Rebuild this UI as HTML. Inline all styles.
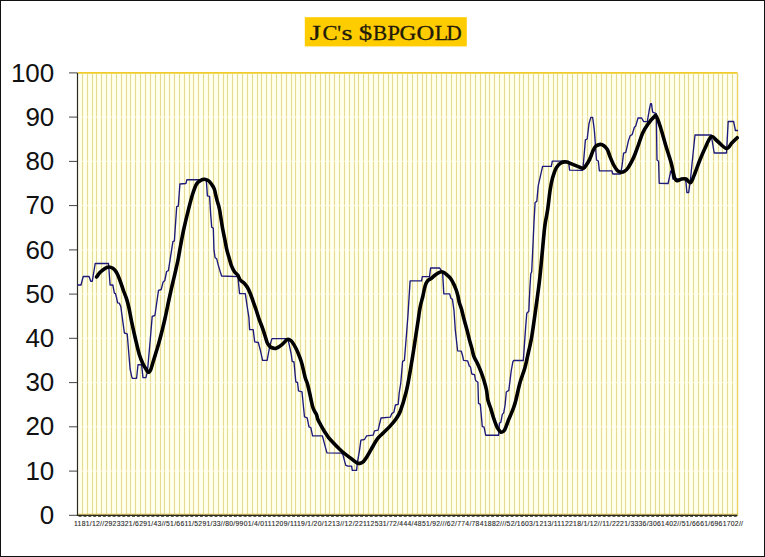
<!DOCTYPE html>
<html><head><meta charset="utf-8"><style>
html,body{margin:0;padding:0;background:#fff;}
body{width:765px;height:557px;overflow:hidden;position:relative;}
svg{position:absolute;left:0;top:0;}
</style></head><body>
<svg width="765" height="557" viewBox="0 0 765 557">
<rect x="0" y="0" width="765" height="557" fill="#fff"/>
<rect x="77.5" y="72.9" width="660.0" height="442.4" fill="#FFFFF2"/>
<path d="M82.5 73.9V515.3M87.5 73.9V515.3M92.5 73.9V515.3M96.5 73.9V515.3M101.5 73.9V515.3M106.5 73.9V515.3M111.5 73.9V515.3M116.5 73.9V515.3M121.5 73.9V515.3M126.5 73.9V515.3M130.5 73.9V515.3M135.5 73.9V515.3M140.5 73.9V515.3M145.5 73.9V515.3M150.5 73.9V515.3M155.5 73.9V515.3M160.5 73.9V515.3M164.5 73.9V515.3M169.5 73.9V515.3M174.5 73.9V515.3M179.5 73.9V515.3M184.5 73.9V515.3M189.5 73.9V515.3M193.5 73.9V515.3M198.5 73.9V515.3M203.5 73.9V515.3M208.5 73.9V515.3M213.5 73.9V515.3M218.5 73.9V515.3M223.5 73.9V515.3M227.5 73.9V515.3M232.5 73.9V515.3M237.5 73.9V515.3M242.5 73.9V515.3M247.5 73.9V515.3M252.5 73.9V515.3M257.5 73.9V515.3M261.5 73.9V515.3M266.5 73.9V515.3M271.5 73.9V515.3M276.5 73.9V515.3M281.5 73.9V515.3M286.5 73.9V515.3M291.5 73.9V515.3M295.5 73.9V515.3M300.5 73.9V515.3M305.5 73.9V515.3M310.5 73.9V515.3M315.5 73.9V515.3M320.5 73.9V515.3M325.5 73.9V515.3M329.5 73.9V515.3M334.5 73.9V515.3M339.5 73.9V515.3M344.5 73.9V515.3M349.5 73.9V515.3M354.5 73.9V515.3M358.5 73.9V515.3M363.5 73.9V515.3M368.5 73.9V515.3M373.5 73.9V515.3M378.5 73.9V515.3M383.5 73.9V515.3M388.5 73.9V515.3M392.5 73.9V515.3M397.5 73.9V515.3M402.5 73.9V515.3M407.5 73.9V515.3M412.5 73.9V515.3M417.5 73.9V515.3M422.5 73.9V515.3M426.5 73.9V515.3M431.5 73.9V515.3M436.5 73.9V515.3M441.5 73.9V515.3M446.5 73.9V515.3M451.5 73.9V515.3M456.5 73.9V515.3M460.5 73.9V515.3M465.5 73.9V515.3M470.5 73.9V515.3M475.5 73.9V515.3M480.5 73.9V515.3M485.5 73.9V515.3M489.5 73.9V515.3M494.5 73.9V515.3M499.5 73.9V515.3M504.5 73.9V515.3M509.5 73.9V515.3M514.5 73.9V515.3M519.5 73.9V515.3M523.5 73.9V515.3M528.5 73.9V515.3M533.5 73.9V515.3M538.5 73.9V515.3M543.5 73.9V515.3M548.5 73.9V515.3M553.5 73.9V515.3M557.5 73.9V515.3M562.5 73.9V515.3M567.5 73.9V515.3M572.5 73.9V515.3M577.5 73.9V515.3M582.5 73.9V515.3M587.5 73.9V515.3M591.5 73.9V515.3M596.5 73.9V515.3M601.5 73.9V515.3M606.5 73.9V515.3M611.5 73.9V515.3M616.5 73.9V515.3M621.5 73.9V515.3M625.5 73.9V515.3M630.5 73.9V515.3M635.5 73.9V515.3M640.5 73.9V515.3M645.5 73.9V515.3M650.5 73.9V515.3M655.5 73.9V515.3M659.5 73.9V515.3M664.5 73.9V515.3M669.5 73.9V515.3M674.5 73.9V515.3M679.5 73.9V515.3M684.5 73.9V515.3M688.5 73.9V515.3M693.5 73.9V515.3M698.5 73.9V515.3M703.5 73.9V515.3M708.5 73.9V515.3M713.5 73.9V515.3M718.5 73.9V515.3M722.5 73.9V515.3M727.5 73.9V515.3M732.5 73.9V515.3" stroke="#FFFFD0" stroke-width="2" fill="none"/>
<path d="M82.5 73.9V515.3M87.5 73.9V515.3M92.5 73.9V515.3M96.5 73.9V515.3M101.5 73.9V515.3M106.5 73.9V515.3M111.5 73.9V515.3M116.5 73.9V515.3M121.5 73.9V515.3M126.5 73.9V515.3M130.5 73.9V515.3M135.5 73.9V515.3M140.5 73.9V515.3M145.5 73.9V515.3M150.5 73.9V515.3M155.5 73.9V515.3M160.5 73.9V515.3M164.5 73.9V515.3M169.5 73.9V515.3M174.5 73.9V515.3M179.5 73.9V515.3M184.5 73.9V515.3M189.5 73.9V515.3M193.5 73.9V515.3M198.5 73.9V515.3M203.5 73.9V515.3M208.5 73.9V515.3M213.5 73.9V515.3M218.5 73.9V515.3M223.5 73.9V515.3M227.5 73.9V515.3M232.5 73.9V515.3M237.5 73.9V515.3M242.5 73.9V515.3M247.5 73.9V515.3M252.5 73.9V515.3M257.5 73.9V515.3M261.5 73.9V515.3M266.5 73.9V515.3M271.5 73.9V515.3M276.5 73.9V515.3M281.5 73.9V515.3M286.5 73.9V515.3M291.5 73.9V515.3M295.5 73.9V515.3M300.5 73.9V515.3M305.5 73.9V515.3M310.5 73.9V515.3M315.5 73.9V515.3M320.5 73.9V515.3M325.5 73.9V515.3M329.5 73.9V515.3M334.5 73.9V515.3M339.5 73.9V515.3M344.5 73.9V515.3M349.5 73.9V515.3M354.5 73.9V515.3M358.5 73.9V515.3M363.5 73.9V515.3M368.5 73.9V515.3M373.5 73.9V515.3M378.5 73.9V515.3M383.5 73.9V515.3M388.5 73.9V515.3M392.5 73.9V515.3M397.5 73.9V515.3M402.5 73.9V515.3M407.5 73.9V515.3M412.5 73.9V515.3M417.5 73.9V515.3M422.5 73.9V515.3M426.5 73.9V515.3M431.5 73.9V515.3M436.5 73.9V515.3M441.5 73.9V515.3M446.5 73.9V515.3M451.5 73.9V515.3M456.5 73.9V515.3M460.5 73.9V515.3M465.5 73.9V515.3M470.5 73.9V515.3M475.5 73.9V515.3M480.5 73.9V515.3M485.5 73.9V515.3M489.5 73.9V515.3M494.5 73.9V515.3M499.5 73.9V515.3M504.5 73.9V515.3M509.5 73.9V515.3M514.5 73.9V515.3M519.5 73.9V515.3M523.5 73.9V515.3M528.5 73.9V515.3M533.5 73.9V515.3M538.5 73.9V515.3M543.5 73.9V515.3M548.5 73.9V515.3M553.5 73.9V515.3M557.5 73.9V515.3M562.5 73.9V515.3M567.5 73.9V515.3M572.5 73.9V515.3M577.5 73.9V515.3M582.5 73.9V515.3M587.5 73.9V515.3M591.5 73.9V515.3M596.5 73.9V515.3M601.5 73.9V515.3M606.5 73.9V515.3M611.5 73.9V515.3M616.5 73.9V515.3M621.5 73.9V515.3M625.5 73.9V515.3M630.5 73.9V515.3M635.5 73.9V515.3M640.5 73.9V515.3M645.5 73.9V515.3M650.5 73.9V515.3M655.5 73.9V515.3M659.5 73.9V515.3M664.5 73.9V515.3M669.5 73.9V515.3M674.5 73.9V515.3M679.5 73.9V515.3M684.5 73.9V515.3M688.5 73.9V515.3M693.5 73.9V515.3M698.5 73.9V515.3M703.5 73.9V515.3M708.5 73.9V515.3M713.5 73.9V515.3M718.5 73.9V515.3M722.5 73.9V515.3M727.5 73.9V515.3M732.5 73.9V515.3" stroke="#E5DA96" stroke-width="1" fill="none"/>
<path d="M78.5 471.1H737.5M78.5 426.8H737.5M78.5 382.6H737.5M78.5 338.3H737.5M78.5 294.1H737.5M78.5 249.9H737.5M78.5 205.6H737.5M78.5 161.4H737.5M78.5 117.1H737.5" stroke="#FFFFF4" stroke-width="1" stroke-opacity="0.85" fill="none"/>
<path d="M77.5 72.9H737.5" stroke="#EFCB2C" stroke-width="1.8" fill="none"/>
<path d="M737.5 72.9V515.3" stroke="#EAD360" stroke-width="1.4" fill="none"/>
<path d="M77.5 514.2H737.5" stroke="#E8C850" stroke-width="1" fill="none"/>
<path d="M69 515.3H77.5M69 471.1H77.5M69 426.8H77.5M69 382.6H77.5M69 338.3H77.5M69 294.1H77.5M69 249.9H77.5M69 205.6H77.5M69 161.4H77.5M69 117.1H77.5M69 72.9H77.5" stroke="#444" stroke-width="1" fill="none"/>
<g fill="#1a1a10"><rect x="78.60" y="514.9" width="3" height="1.8"/><rect x="83.45" y="514.9" width="3" height="1.8"/><rect x="88.31" y="514.9" width="3" height="1.8"/><rect x="93.16" y="514.9" width="3" height="1.8"/><rect x="98.01" y="514.9" width="3" height="1.8"/><rect x="102.86" y="514.9" width="3" height="1.8"/><rect x="107.72" y="514.9" width="3" height="1.8"/><rect x="112.57" y="514.9" width="3" height="1.8"/><rect x="117.42" y="514.9" width="3" height="1.8"/><rect x="122.28" y="514.9" width="3" height="1.8"/><rect x="127.13" y="514.9" width="3" height="1.8"/><rect x="131.98" y="514.9" width="3" height="1.8"/><rect x="136.84" y="514.9" width="3" height="1.8"/><rect x="141.69" y="514.9" width="3" height="1.8"/><rect x="146.54" y="514.9" width="3" height="1.8"/><rect x="151.39" y="514.9" width="3" height="1.8"/><rect x="156.25" y="514.9" width="3" height="1.8"/><rect x="161.10" y="514.9" width="3" height="1.8"/><rect x="165.95" y="514.9" width="3" height="1.8"/><rect x="170.81" y="514.9" width="3" height="1.8"/><rect x="175.66" y="514.9" width="3" height="1.8"/><rect x="180.51" y="514.9" width="3" height="1.8"/><rect x="185.36" y="514.9" width="3" height="1.8"/><rect x="190.22" y="514.9" width="3" height="1.8"/><rect x="195.07" y="514.9" width="3" height="1.8"/><rect x="199.92" y="514.9" width="3" height="1.8"/><rect x="204.78" y="514.9" width="3" height="1.8"/><rect x="209.63" y="514.9" width="3" height="1.8"/><rect x="214.48" y="514.9" width="3" height="1.8"/><rect x="219.34" y="514.9" width="3" height="1.8"/><rect x="224.19" y="514.9" width="3" height="1.8"/><rect x="229.04" y="514.9" width="3" height="1.8"/><rect x="233.89" y="514.9" width="3" height="1.8"/><rect x="238.75" y="514.9" width="3" height="1.8"/><rect x="243.60" y="514.9" width="3" height="1.8"/><rect x="248.45" y="514.9" width="3" height="1.8"/><rect x="253.31" y="514.9" width="3" height="1.8"/><rect x="258.16" y="514.9" width="3" height="1.8"/><rect x="263.01" y="514.9" width="3" height="1.8"/><rect x="267.86" y="514.9" width="3" height="1.8"/><rect x="272.72" y="514.9" width="3" height="1.8"/><rect x="277.57" y="514.9" width="3" height="1.8"/><rect x="282.42" y="514.9" width="3" height="1.8"/><rect x="287.28" y="514.9" width="3" height="1.8"/><rect x="292.13" y="514.9" width="3" height="1.8"/><rect x="296.98" y="514.9" width="3" height="1.8"/><rect x="301.84" y="514.9" width="3" height="1.8"/><rect x="306.69" y="514.9" width="3" height="1.8"/><rect x="311.54" y="514.9" width="3" height="1.8"/><rect x="316.39" y="514.9" width="3" height="1.8"/><rect x="321.25" y="514.9" width="3" height="1.8"/><rect x="326.10" y="514.9" width="3" height="1.8"/><rect x="330.95" y="514.9" width="3" height="1.8"/><rect x="335.81" y="514.9" width="3" height="1.8"/><rect x="340.66" y="514.9" width="3" height="1.8"/><rect x="345.51" y="514.9" width="3" height="1.8"/><rect x="350.36" y="514.9" width="3" height="1.8"/><rect x="355.22" y="514.9" width="3" height="1.8"/><rect x="360.07" y="514.9" width="3" height="1.8"/><rect x="364.92" y="514.9" width="3" height="1.8"/><rect x="369.78" y="514.9" width="3" height="1.8"/><rect x="374.63" y="514.9" width="3" height="1.8"/><rect x="379.48" y="514.9" width="3" height="1.8"/><rect x="384.34" y="514.9" width="3" height="1.8"/><rect x="389.19" y="514.9" width="3" height="1.8"/><rect x="394.04" y="514.9" width="3" height="1.8"/><rect x="398.89" y="514.9" width="3" height="1.8"/><rect x="403.75" y="514.9" width="3" height="1.8"/><rect x="408.60" y="514.9" width="3" height="1.8"/><rect x="413.45" y="514.9" width="3" height="1.8"/><rect x="418.31" y="514.9" width="3" height="1.8"/><rect x="423.16" y="514.9" width="3" height="1.8"/><rect x="428.01" y="514.9" width="3" height="1.8"/><rect x="432.86" y="514.9" width="3" height="1.8"/><rect x="437.72" y="514.9" width="3" height="1.8"/><rect x="442.57" y="514.9" width="3" height="1.8"/><rect x="447.42" y="514.9" width="3" height="1.8"/><rect x="452.28" y="514.9" width="3" height="1.8"/><rect x="457.13" y="514.9" width="3" height="1.8"/><rect x="461.98" y="514.9" width="3" height="1.8"/><rect x="466.84" y="514.9" width="3" height="1.8"/><rect x="471.69" y="514.9" width="3" height="1.8"/><rect x="476.54" y="514.9" width="3" height="1.8"/><rect x="481.39" y="514.9" width="3" height="1.8"/><rect x="486.25" y="514.9" width="3" height="1.8"/><rect x="491.10" y="514.9" width="3" height="1.8"/><rect x="495.95" y="514.9" width="3" height="1.8"/><rect x="500.81" y="514.9" width="3" height="1.8"/><rect x="505.66" y="514.9" width="3" height="1.8"/><rect x="510.51" y="514.9" width="3" height="1.8"/><rect x="515.36" y="514.9" width="3" height="1.8"/><rect x="520.22" y="514.9" width="3" height="1.8"/><rect x="525.07" y="514.9" width="3" height="1.8"/><rect x="529.92" y="514.9" width="3" height="1.8"/><rect x="534.78" y="514.9" width="3" height="1.8"/><rect x="539.63" y="514.9" width="3" height="1.8"/><rect x="544.48" y="514.9" width="3" height="1.8"/><rect x="549.34" y="514.9" width="3" height="1.8"/><rect x="554.19" y="514.9" width="3" height="1.8"/><rect x="559.04" y="514.9" width="3" height="1.8"/><rect x="563.89" y="514.9" width="3" height="1.8"/><rect x="568.75" y="514.9" width="3" height="1.8"/><rect x="573.60" y="514.9" width="3" height="1.8"/><rect x="578.45" y="514.9" width="3" height="1.8"/><rect x="583.31" y="514.9" width="3" height="1.8"/><rect x="588.16" y="514.9" width="3" height="1.8"/><rect x="593.01" y="514.9" width="3" height="1.8"/><rect x="597.86" y="514.9" width="3" height="1.8"/><rect x="602.72" y="514.9" width="3" height="1.8"/><rect x="607.57" y="514.9" width="3" height="1.8"/><rect x="612.42" y="514.9" width="3" height="1.8"/><rect x="617.28" y="514.9" width="3" height="1.8"/><rect x="622.13" y="514.9" width="3" height="1.8"/><rect x="626.98" y="514.9" width="3" height="1.8"/><rect x="631.84" y="514.9" width="3" height="1.8"/><rect x="636.69" y="514.9" width="3" height="1.8"/><rect x="641.54" y="514.9" width="3" height="1.8"/><rect x="646.39" y="514.9" width="3" height="1.8"/><rect x="651.25" y="514.9" width="3" height="1.8"/><rect x="656.10" y="514.9" width="3" height="1.8"/><rect x="660.95" y="514.9" width="3" height="1.8"/><rect x="665.81" y="514.9" width="3" height="1.8"/><rect x="670.66" y="514.9" width="3" height="1.8"/><rect x="675.51" y="514.9" width="3" height="1.8"/><rect x="680.36" y="514.9" width="3" height="1.8"/><rect x="685.22" y="514.9" width="3" height="1.8"/><rect x="690.07" y="514.9" width="3" height="1.8"/><rect x="694.92" y="514.9" width="3" height="1.8"/><rect x="699.78" y="514.9" width="3" height="1.8"/><rect x="704.63" y="514.9" width="3" height="1.8"/><rect x="709.48" y="514.9" width="3" height="1.8"/><rect x="714.34" y="514.9" width="3" height="1.8"/><rect x="719.19" y="514.9" width="3" height="1.8"/><rect x="724.04" y="514.9" width="3" height="1.8"/><rect x="728.89" y="514.9" width="3" height="1.8"/><rect x="733.75" y="514.9" width="3" height="1.8"/></g>
<path d="M77.5 72.9V515.3H737.5" stroke="#2a2a20" stroke-width="1.2" fill="none"/>
<polyline points="77.5,285.0 81.0,285.0 83.2,276.5 89.1,276.5 90.7,281.2 92.3,281.2 95.2,263.5 108.5,263.5 110.1,285.0 112.8,285.0 114.4,293.1 115.5,293.6 116.6,298.0 117.6,302.8 119.3,303.2 120.8,306.6 124.4,333.0 127.2,333.8 130.1,369.0 131.6,376.1 132.3,378.3 136.6,378.3 138.0,364.7 141.6,364.7 143.0,377.6 145.9,377.6 147.4,371.8 150.2,340.2 152.2,316.4 154.9,315.5 158.5,290.4 161.2,289.5 163.0,282.3 164.8,280.5 166.6,271.5 168.4,270.6 172.9,241.7 174.4,240.8 176.7,206.6 178.3,206.1 179.9,184.0 185.9,183.5 186.9,179.7 206.3,179.7 207.4,195.9 209.6,196.4 210.6,213.1 211.7,227.1 213.3,228.2 214.0,250.2 215.1,257.7 216.7,258.8 218.3,265.3 219.9,270.6 221.6,276.0 237.9,276.6 239.6,293.6 245.3,293.6 247.5,308.7 248.9,317.4 249.6,329.6 253.2,329.6 254.7,341.8 258.3,342.5 260.4,350.4 262.6,360.4 267.1,360.4 269.8,346.1 271.9,338.6 287.7,338.6 289.2,344.7 291.3,354.7 292.2,361.3 294.0,362.0 295.8,381.9 297.5,382.5 298.5,390.9 302.0,391.8 303.6,408.0 304.5,416.9 307.2,417.8 309.0,426.8 310.8,427.7 312.6,435.8 322.4,435.8 326.9,452.8 341.5,453.2 342.9,454.6 344.4,460.3 345.8,465.4 348.0,466.1 351.6,466.1 352.3,470.4 356.6,470.4 357.3,463.2 359.5,450.3 360.9,440.2 364.5,439.5 366.6,435.9 373.1,435.2 374.5,430.9 378.1,430.2 381.0,418.0 390.3,417.2 391.8,413.6 393.9,412.2 395.4,405.0 398.2,404.3 399.2,393.0 400.8,382.8 402.6,361.3 404.4,360.4 406.2,338.0 407.9,316.1 410.1,280.9 421.6,280.9 422.3,276.6 429.5,276.6 430.6,268.0 439.5,267.9 441.1,270.1 442.7,273.9 443.8,293.8 449.7,293.8 450.8,298.1 452.4,299.2 454.0,310.5 455.3,330.0 456.3,338.8 457.6,350.8 461.3,351.2 462.4,355.0 463.6,360.4 467.6,360.8 469.3,366.0 470.5,367.0 471.8,374.0 474.5,374.6 475.6,380.5 477.9,382.2 478.5,403.4 480.3,404.4 482.3,426.6 484.0,426.8 485.7,435.2 498.7,435.2 499.4,423.0 500.8,422.3 502.3,414.4 503.7,412.9 505.1,405.0 506.3,392.0 508.8,390.4 511.2,371.0 512.8,362.1 513.6,360.5 523.3,360.5 525.8,325.1 526.8,313.2 528.8,311.3 529.8,289.5 530.8,273.7 531.7,271.7 532.5,255.0 534.0,221.9 535.1,202.5 536.8,201.4 538.3,185.3 540.5,175.6 542.6,166.3 551.3,166.3 552.3,161.1 568.5,161.1 569.6,170.2 582.7,170.4 583.6,161.4 585.4,139.9 587.2,139.0 589.0,123.7 590.8,117.4 592.6,117.4 593.5,123.7 594.4,130.9 596.5,160.0 598.3,161.0 599.4,170.8 611.9,170.8 612.8,174.0 620.6,174.0 622.0,166.0 623.6,153.2 625.8,152.4 628.6,140.2 630.1,135.9 632.2,134.5 634.4,127.3 635.8,125.9 638.0,118.0 641.6,118.0 643.7,121.6 647.3,121.6 649.5,108.6 650.6,103.6 651.5,103.6 652.6,112.2 656.3,113.6 657.0,160.0 658.6,161.2 659.2,183.3 668.1,183.5 670.8,170.9 671.7,170.5 672.9,179.0 685.1,179.0 686.0,182.6 686.9,192.5 688.7,192.5 690.5,179.0 692.3,161.0 695.0,135.0 711.2,135.0 714.2,153.0 726.5,153.0 728.2,121.5 733.6,121.5 735.4,130.5 738.0,130.5" fill="none" stroke="#1D1A7A" stroke-width="1.35" stroke-linejoin="round"/>
<path d="M96.60 277.00C97.15 276.27 98.63 273.95 99.90 272.60C101.17 271.25 102.77 269.83 104.20 268.90C105.63 267.97 107.07 267.10 108.50 267.00C109.93 266.90 111.55 267.53 112.80 268.30C114.05 269.07 115.10 270.33 116.00 271.60C116.90 272.87 117.48 274.28 118.20 275.90C118.92 277.52 119.40 278.78 120.30 281.30C121.20 283.82 122.52 287.95 123.60 291.00C124.68 294.05 125.90 296.73 126.80 299.60C127.70 302.47 128.20 304.53 129.00 308.20C129.80 311.87 130.48 316.30 131.60 321.60C132.72 326.90 134.42 334.53 135.70 340.00C136.98 345.47 138.10 350.45 139.30 354.40C140.50 358.35 141.82 361.32 142.90 363.70C143.98 366.08 144.90 367.27 145.80 368.70C146.70 370.13 147.47 372.18 148.30 372.30C149.13 372.42 150.02 371.07 150.80 369.40C151.58 367.73 152.13 365.12 153.00 362.30C153.87 359.48 155.00 355.80 156.00 352.50C157.00 349.20 158.00 346.08 159.00 342.50C160.00 338.92 161.00 335.00 162.00 331.00C163.00 327.00 163.85 323.67 165.00 318.50C166.15 313.33 167.73 305.42 168.90 300.00C170.07 294.58 170.98 290.45 172.00 286.00C173.02 281.55 174.00 277.63 175.00 273.30C176.00 268.97 177.08 264.55 178.00 260.00C178.92 255.45 179.58 250.92 180.50 246.00C181.42 241.08 182.22 236.40 183.50 230.50C184.78 224.60 186.70 216.60 188.20 210.60C189.70 204.60 191.10 198.93 192.50 194.50C193.90 190.07 195.18 186.38 196.60 184.00C198.02 181.62 199.73 181.00 201.00 180.20C202.27 179.40 203.13 179.20 204.20 179.20C205.27 179.20 206.52 179.80 207.40 180.20C208.28 180.60 208.58 180.58 209.50 181.60C210.42 182.62 212.05 184.90 212.90 186.30C213.75 187.70 214.15 188.65 214.60 190.00C215.05 191.35 215.20 192.72 215.60 194.40C216.00 196.08 216.48 198.18 217.00 200.10C217.52 202.02 218.23 204.10 218.70 205.90C219.17 207.70 219.45 209.00 219.80 210.90C220.15 212.80 220.33 214.37 220.80 217.30C221.27 220.23 221.93 224.82 222.60 228.50C223.27 232.18 224.08 235.78 224.80 239.40C225.52 243.02 226.18 247.15 226.90 250.20C227.62 253.25 228.37 255.18 229.10 257.70C229.83 260.22 230.40 262.97 231.30 265.30C232.20 267.63 233.43 270.08 234.50 271.70C235.57 273.32 236.73 273.62 237.70 275.00C238.67 276.38 239.25 278.67 240.30 280.00C241.35 281.33 242.80 281.75 244.00 283.00C245.20 284.25 246.42 285.67 247.50 287.50C248.58 289.33 249.55 291.65 250.50 294.00C251.45 296.35 252.28 299.02 253.20 301.60C254.12 304.18 255.03 306.63 256.00 309.50C256.97 312.37 257.78 315.33 259.00 318.80C260.22 322.27 261.98 326.47 263.30 330.30C264.62 334.13 265.98 339.32 266.90 341.80C267.82 344.28 268.08 344.25 268.80 345.20C269.52 346.15 269.97 346.98 271.20 347.50C272.43 348.02 274.40 348.77 276.20 348.30C278.00 347.83 280.20 346.15 282.00 344.70C283.80 343.25 285.75 340.42 287.00 339.60C288.25 338.78 288.67 339.43 289.50 339.80C290.33 340.17 290.87 340.27 292.00 341.80C293.13 343.33 294.98 346.37 296.30 349.00C297.62 351.63 298.93 355.02 299.90 357.60C300.87 360.18 301.23 361.23 302.10 364.50C302.97 367.77 304.18 373.88 305.10 377.20C306.02 380.52 306.88 381.93 307.60 384.40C308.32 386.87 308.82 389.40 309.40 392.00C309.98 394.60 310.57 397.58 311.10 400.00C311.63 402.42 312.07 404.70 312.60 406.50C313.13 408.30 313.65 409.45 314.30 410.80C314.95 412.15 315.90 413.15 316.50 414.60C317.10 416.05 317.18 417.75 317.90 419.50C318.62 421.25 319.83 423.32 320.80 425.10C321.77 426.88 322.75 428.63 323.70 430.20C324.65 431.77 325.45 432.98 326.50 434.50C327.55 436.02 327.50 436.55 330.00 439.30C332.50 442.05 337.90 447.73 341.50 451.00C345.10 454.27 349.18 457.02 351.60 458.90C354.02 460.78 354.85 461.55 356.00 462.30C357.15 463.05 357.67 463.28 358.50 463.40C359.33 463.52 360.17 463.32 361.00 463.00C361.83 462.68 362.43 462.67 363.50 461.50C364.57 460.33 365.80 458.58 367.40 456.00C369.00 453.42 371.43 448.87 373.10 446.00C374.77 443.13 375.72 440.97 377.40 438.80C379.08 436.63 381.05 435.15 383.20 433.00C385.35 430.85 388.15 428.28 390.30 425.90C392.45 423.52 394.42 421.18 396.10 418.70C397.78 416.22 398.72 415.48 400.40 411.00C402.08 406.52 404.65 397.98 406.20 391.80C407.75 385.62 408.52 380.48 409.70 373.90C410.88 367.32 412.25 358.88 413.30 352.30C414.35 345.72 415.23 339.45 416.00 334.40C416.77 329.35 417.22 326.52 417.90 322.00C418.58 317.48 419.28 311.55 420.10 307.30C420.92 303.05 422.08 299.57 422.80 296.50C423.52 293.43 423.87 291.05 424.40 288.90C424.93 286.75 425.37 285.03 426.00 283.60C426.63 282.17 427.30 281.20 428.20 280.30C429.10 279.40 430.33 279.00 431.40 278.20C432.47 277.40 433.52 276.32 434.60 275.50C435.68 274.68 436.82 273.93 437.90 273.30C438.98 272.67 440.03 271.78 441.10 271.70C442.17 271.62 443.22 272.17 444.30 272.80C445.38 273.43 446.52 274.52 447.60 275.50C448.68 276.48 449.73 277.18 450.80 278.70C451.87 280.22 453.10 282.72 454.00 284.60C454.90 286.48 455.57 288.20 456.20 290.00C456.83 291.80 457.27 293.25 457.80 295.40C458.33 297.55 458.77 300.57 459.40 302.90C460.03 305.23 460.88 306.88 461.60 309.40C462.32 311.92 462.80 314.57 463.70 318.00C464.60 321.43 466.03 326.32 467.00 330.00C467.97 333.68 468.67 336.95 469.50 340.10C470.33 343.25 471.27 346.18 472.00 348.90C472.73 351.62 472.95 353.88 473.90 356.40C474.85 358.92 476.45 361.27 477.70 364.00C478.95 366.73 480.37 370.08 481.40 372.80C482.43 375.52 483.05 377.43 483.90 380.30C484.75 383.17 485.83 386.72 486.50 390.00C487.17 393.28 487.18 396.90 487.90 400.00C488.62 403.10 489.85 405.60 490.80 408.60C491.75 411.60 492.65 415.12 493.60 418.00C494.55 420.88 495.60 423.87 496.50 425.90C497.40 427.93 498.17 429.13 499.00 430.20C499.83 431.27 500.60 432.30 501.50 432.30C502.40 432.30 503.55 431.40 504.40 430.20C505.25 429.00 505.88 426.90 506.60 425.10C507.32 423.30 507.98 421.18 508.70 419.40C509.42 417.62 510.05 416.43 510.90 414.40C511.75 412.37 512.97 409.60 513.80 407.20C514.63 404.80 514.85 404.15 515.90 400.00C516.95 395.85 518.60 387.67 520.10 382.30C521.60 376.93 523.50 372.85 524.90 367.80C526.30 362.75 527.37 357.13 528.50 352.00C529.63 346.87 530.50 344.12 531.70 337.00C532.90 329.88 534.38 318.87 535.70 309.30C537.02 299.73 538.50 289.15 539.60 279.60C540.70 270.05 541.43 260.90 542.30 252.00C543.17 243.10 543.92 233.20 544.80 226.20C545.68 219.20 546.72 215.98 547.60 210.00C548.48 204.02 549.27 195.68 550.10 190.30C550.93 184.92 551.55 181.48 552.60 177.70C553.65 173.92 554.93 170.12 556.40 167.60C557.87 165.08 559.73 163.53 561.40 162.60C563.07 161.67 564.72 161.78 566.40 162.00C568.08 162.22 569.62 163.17 571.50 163.90C573.38 164.63 575.82 165.67 577.70 166.40C579.58 167.13 581.58 168.23 582.80 168.30C584.02 168.37 583.88 168.25 585.00 166.80C586.12 165.35 588.15 162.30 589.50 159.60C590.85 156.90 592.05 152.83 593.10 150.60C594.15 148.37 594.60 147.23 595.80 146.20C597.00 145.17 598.95 144.48 600.30 144.40C601.65 144.32 602.72 144.82 603.90 145.70C605.08 146.58 606.37 147.83 607.40 149.70C608.43 151.57 609.05 154.35 610.10 156.90C611.15 159.45 612.50 162.75 613.70 165.00C614.90 167.25 616.10 169.20 617.30 170.40C618.50 171.60 619.70 172.05 620.90 172.20C622.10 172.35 623.30 172.05 624.50 171.30C625.70 170.55 626.90 169.35 628.10 167.70C629.30 166.05 630.55 163.65 631.70 161.40C632.85 159.15 633.92 156.85 635.00 154.20C636.08 151.55 636.90 149.08 638.20 145.50C639.50 141.92 641.13 136.33 642.80 132.70C644.47 129.07 646.40 126.25 648.20 123.70C650.00 121.15 652.25 118.65 653.60 117.40C654.95 116.15 655.17 114.60 656.30 116.20C657.43 117.80 658.85 122.20 660.40 127.00C661.95 131.80 663.80 139.00 665.60 145.00C667.40 151.00 669.73 157.63 671.20 163.00C672.67 168.37 673.42 174.23 674.40 177.20C675.38 180.17 675.92 180.50 677.10 180.80C678.28 181.10 680.02 179.30 681.50 179.00C682.98 178.70 684.50 178.40 686.00 179.00C687.50 179.60 689.15 183.20 690.50 182.60C691.85 182.00 692.60 179.00 694.10 175.40C695.60 171.80 697.70 165.48 699.50 161.00C701.30 156.52 702.95 152.53 704.90 148.50C706.85 144.47 709.10 138.00 711.20 136.80C713.30 135.60 714.97 139.35 717.50 141.30C720.03 143.25 724.02 148.20 726.40 148.50C728.78 148.80 730.00 144.90 731.80 143.10C733.60 141.30 736.30 138.60 737.20 137.70" fill="none" stroke="#000" stroke-width="3.6" stroke-linejoin="round" stroke-linecap="round"/>
<g font-family="Liberation Sans, sans-serif" font-size="26" fill="#111"><text x="54.3" y="523.9" text-anchor="end">0</text><text x="54.3" y="479.7" text-anchor="end">10</text><text x="54.3" y="435.4" text-anchor="end">20</text><text x="54.3" y="391.2" text-anchor="end">30</text><text x="54.3" y="346.9" text-anchor="end">40</text><text x="54.3" y="302.7" text-anchor="end">50</text><text x="54.3" y="258.5" text-anchor="end">60</text><text x="54.3" y="214.2" text-anchor="end">70</text><text x="54.3" y="170.0" text-anchor="end">80</text><text x="54.3" y="125.7" text-anchor="end">90</text><text x="54.3" y="81.5" text-anchor="end">100</text></g>
<g font-family="Liberation Sans, sans-serif" font-size="6.8" fill="#2a2a2a" stroke="#2a2a2a" stroke-width="0.12"><text x="74" y="525.6" textLength="669" lengthAdjust="spacing">1181/12//2923321/6291/43//51/6611/5291/33//80/9901/4/0111209/1119/1/20/1213//12/22112531/72/444/4851/92///62/774/7841882///52/1603/1213/1112218/1/12//11/2221/3336/3061402//51/6661/6961702//</text></g>
<rect x="304.8" y="17.2" width="162" height="29.2" fill="#FFCC00"/>
<g font-family="Liberation Serif, serif" font-size="21" fill="#221a08" stroke="#221a08" stroke-width="0.3"><text x="311.10" y="39.8" transform="translate(315.2 0) scale(1.350 1) translate(-315.2 0)">J</text><text x="323.05" y="39.8" transform="translate(329.9 0) scale(1.074 1) translate(-329.9 0)">C</text><text x="337.15" y="39.8" transform="translate(339 0) scale(1.000 1) translate(-339 0)">'</text><text x="343.05" y="39.8" transform="translate(347.2 0) scale(1.350 1) translate(-347.2 0)">s</text><text x="360.30" y="39.8" transform="translate(365.7 0) scale(1.278 1) translate(-365.7 0)">$</text><text x="373.00" y="39.8" transform="translate(379.8 0) scale(1.008 1) translate(-379.8 0)">B</text><text x="387.85" y="39.8" transform="translate(393.6 0) scale(1.068 1) translate(-393.6 0)">P</text><text x="400.30" y="39.8" transform="translate(408 0) scale(1.109 1) translate(-408 0)">G</text><text x="417.80" y="39.8" transform="translate(425.4 0) scale(1.176 1) translate(-425.4 0)">O</text><text x="434.90" y="39.8" transform="translate(441 0) scale(1.036 1) translate(-441 0)">L</text><text x="446.50" y="39.8" transform="translate(454 0) scale(1.000 1) translate(-454 0)">D</text></g>
<rect x="0.5" y="0.5" width="764" height="556" fill="none" stroke="#111" stroke-width="1"/>
</svg>
</body></html>
